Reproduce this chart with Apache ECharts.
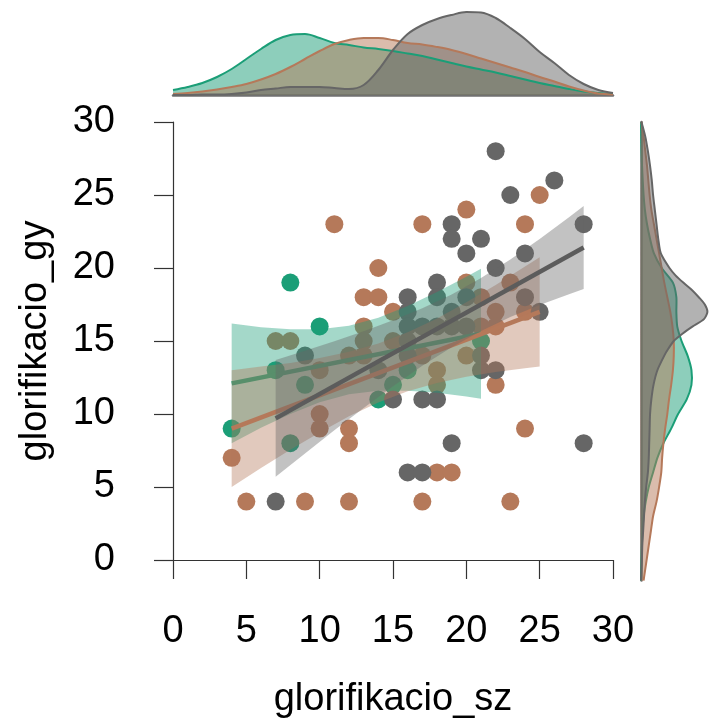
<!DOCTYPE html>
<html><head><meta charset="utf-8">
<script src="https://cdn.jsdelivr.net/npm/echarts@6/dist/echarts.min.js"></script>
<style>html,body{margin:0;padding:0;background:#fff}#c{width:710px;height:722px}</style>
</head><body><div id="c"></div>
<script>
// ---- scatter data (glorifikacio_sz, glorifikacio_gy) ----
const greenSz = [4,7,8,8,9,10,14,15,16,21];
const greenGy = [9,13,19,8,12,16,11,12,13,15];
const brownSz = [11,14,13,14,15,13,4,5,9,12,17,23,12,12,10,10,17,20,25,24,23,24,22,18,19,7,8,10,12,13,13,15,20,21,22,20,17,18,18,24,22,21];
const brownGy = [23,20,18,18,17,16,7,4,4,4,4,4,9,8,10,9,23,24,25,23,19,9,12,6,6,15,15,13,14,14,15,15,19,18,17,14,14,13,12,17,16,16];
const greySz = [22,26,23,28,19,19,21,20,24,22,18,16,24,25,19,28,16,17,7,15,17,18,21,22,14,9,16,16,17,16,16,18,20,19,18,19,20,21];
const greyGy = [28,26,25,23,23,22,22,21,21,20,19,18,18,17,8,8,6,6,4,11,11,11,13,13,13,14,17,16,16,15,14,18,18,17,16,16,16,14];

// ---- regression fits ----
const greenFitX = [4,21], greenFitY = [12.1,15.5];
const brownFitX = [4,25], brownFitY = [9.0,17.0];
const greyFitX = [7,28], greyFitY = [9.7,21.4];

// ---- confidence bands ----
const greenBandX = [4,6,8,10,12,14,16,18,20,21];
const greenBandLo = [8.0,9.06,10.0,10.8,11.35,11.6,11.6,11.45,11.2,11.05];
const greenBandHi = [16.2,15.94,15.8,15.8,16.05,16.6,17.4,18.35,19.4,19.95];
const brownBandX = [4,6,8,10,12,14,16,18,20,22,24,25];
const brownBandLo = [5.0,6.3,7.55,8.74,9.84,10.79,11.55,12.12,12.55,12.88,13.14,13.26];
const brownBandHi = [13.0,13.25,13.5,13.84,14.26,14.83,15.6,16.54,17.65,18.84,20.1,20.74];
const greyBandX = [7,9,11,13,15,17,19,21,23,25,27,28];
const greyBandLo = [5.7,7.29,8.88,10.41,11.9,13.3,14.57,15.69,16.64,17.47,18.21,18.56];
const greyBandHi = [13.7,14.33,14.98,15.67,16.42,17.24,18.19,19.31,20.58,21.99,23.47,24.24];

// ---- marginal densities (relative units) ----
const topX = [0,1,2,3,4,5,6,7,8,9,10,11,12,13,14,15,16,17,18,19,20,21,22,23,24,25,26,27,28,29,30];
const greenTop = [5,8,12,18,26,36,46,55,60,61,57,52,50,47.5,46,44,41.5,39,35.5,32,28.5,25.5,22.5,19,15.5,12,9,6,3.5,2,1];
const brownTop = [1,2,3.5,5.5,8,11,15.5,21,28,36,44,51,55,57,57,55,52,50.5,48,45,41,36.5,32,27.5,23,18,13.5,8.5,4.5,1.5,0.5];
const greyTop = [0,0,0.5,0.5,1,2.5,5,6.5,8,8,8,7,6,10,25,45,61,70,76,80,83,82.5,77,67,56,43,32,20,11,5,2];

const rightY = [30,29,28,27,26,25,24,23,22,21,20,19,18,17,16,15,14,13,12,11,10,9,8,7,6,5,4,3,2,1,0,-1,-1.4];
const greenRight = [0,0.3,0.7,1.2,2,3,4.5,7,10.5,15,24,37,41,41,42,47,54,58.5,58.5,53,43,35,26,19,14,9,5.5,3,1.8,1,0.5,0.2,0];
const brownRight = [0.5,3,5,7,8.5,10,12,15,18,21,24,27,30.5,34,36.5,38,38,37,35,32.5,30.5,28,26,24.5,23.5,21,18,14,11.5,9,6.5,4,3];
const greyRightY = [30,29,28,27,26,25,24,23,22,21,20,19.5,19,18.5,18,17.5,17,16.5,16,15.5,15,14.5,14,13,12,11,10,9,8,7,6,5,4,3,2,1,0,-1,-1.4];
const greyRight = [0.5,5,8,10.5,12.5,14,16,18,20,23,33,40,49,59,67,74,77,73,60,48,38,32,27,19,14.5,12,10.5,10,9.5,9,8,6,4.5,3.5,2.5,1.5,1,0.3,0];

const xTickLabels = ['0','5','10','15','20','25','30'];
const yTickLabels = ['0','5','10','15','20','25','30'];

const GREEN = '#1B9E77', BROWN = '#B5795A', GREY = '#666666';
const FONT = '"Liberation Sans", Arial, sans-serif';

function zip(a, b) { return a.map((v, i) => [v, b[i]]); }

function bandRender(xs, lo, hi, color) {
  return function (params, api) {
    if (params.dataIndex !== 0) return null;
    const pts = [];
    for (let i = 0; i < xs.length; i++) pts.push(api.coord([xs[i], hi[i]]));
    for (let i = xs.length - 1; i >= 0; i--) pts.push(api.coord([xs[i], lo[i]]));
    return { type: 'polygon', shape: { points: pts }, style: { fill: color } };
  };
}
function rightDensRender(ys, ws, line, fill) {
  return function (params, api) {
    if (params.dataIndex !== 0) return null;
    const curve = ys.map((y, i) => api.coord([ws[i], y]));
    const poly = [api.coord([0, ys[0]])].concat(curve, [api.coord([0, ys[ys.length - 1]])]);
    return { type: 'group', children: [
      { type: 'polygon', shape: { points: poly, smooth: 0.25 }, style: { fill: fill } },
      { type: 'polyline', shape: { points: curve, smooth: 0.25 }, style: { stroke: line, lineWidth: 2, fill: null } }
    ] };
  };
}
function scatter(xs, ys, color) {
  return { type: 'scatter', xAxisIndex: 0, yAxisIndex: 0, data: zip(xs, ys), symbolSize: 18,
    itemStyle: { color: color, opacity: 1 }, z: 2, silent: true };
}
function band(xs, lo, hi, color, z) {
  return { type: 'custom', xAxisIndex: 0, yAxisIndex: 0, data: [[xs[0], lo[0]]],
    renderItem: bandRender(xs, lo, hi, color), z: z, silent: true };
}
function fit(xs, ys, color, z) {
  return { type: 'line', xAxisIndex: 0, yAxisIndex: 0, data: zip(xs, ys), symbol: 'none',
    lineStyle: { color: color, width: 4.5 }, z: z, silent: true };
}
function topDens(ys, line, fill) {
  return { type: 'line', xAxisIndex: 1, yAxisIndex: 1, data: zip(topX, ys), symbol: 'none', smooth: 0.35,
    lineStyle: { color: line, width: 2 }, areaStyle: { color: fill, opacity: 1 }, z: 2, silent: true };
}
function rightDens(ys, ws, line, fill) {
  return { type: 'custom', xAxisIndex: 2, yAxisIndex: 2, data: [[0, 0]],
    renderItem: rightDensRender(ys, ws, line, fill), z: 2, silent: true };
}

const axisCol = '#333';
const chart = echarts.init(document.getElementById('c'), null, { renderer: 'canvas' });
chart.setOption({
  animation: false,
  backgroundColor: '#fff',
  grid: [
    { left: 173, right: 97, top: 122, bottom: 162 },
    { left: 173, width: 440, top: 0, height: 95 },
    { left: 641, width: 80, top: 122, height: 458.5 }
  ],
  xAxis: [
    { type: 'value', gridIndex: 0, min: 0, max: 30, interval: 5, offset: 23,
      axisLine: { lineStyle: { color: axisCol, width: 1.2 } },
      axisTick: { length: 19, lineStyle: { color: axisCol, width: 1.2 } },
      axisLabel: { fontSize: 38, fontFamily: FONT, color: '#000', margin: 30,
        formatter: (v) => xTickLabels[Math.round(v / 5)] },
      splitLine: { show: false } },
    { type: 'value', gridIndex: 1, min: 0, max: 30, show: true,
      axisLine: { lineStyle: { color: '#707070', width: 2.5 } }, axisTick: { show: false },
      axisLabel: { show: false }, splitLine: { show: false } },
    { type: 'value', gridIndex: 2, min: 0, max: 80, show: false }
  ],
  yAxis: [
    { type: 'value', gridIndex: 0, min: 0, max: 30, interval: 5, offset: 21,
      axisLine: { lineStyle: { color: axisCol, width: 1.2 } },
      axisTick: { length: 19, lineStyle: { color: axisCol, width: 1.2 } },
      axisLabel: { fontSize: 38, fontFamily: FONT, color: '#000', margin: 37,
        formatter: (v) => yTickLabels[Math.round(v / 5)] },
      splitLine: { show: false } },
    { type: 'value', gridIndex: 1, min: 0, max: 95, show: false },
    { type: 'value', gridIndex: 2, min: -1.4, max: 30, show: true,
      axisLine: { lineStyle: { color: '#707070', width: 2.5 } }, axisTick: { show: false },
      axisLabel: { show: false }, splitLine: { show: false } }
  ],
  graphic: [
    { type: 'text', x: 393, y: 700, style: { text: 'glorifikacio_sz', font: '38px ' + FONT, fill: '#000', align: 'center', verticalAlign: 'middle' } },
    { type: 'text', x: 36, y: 341, rotation: Math.PI / 2, style: { text: 'glorifikacio_gy', font: '38px ' + FONT, fill: '#000', align: 'center', verticalAlign: 'middle' } }
  ],
  series: [
    scatter(greenSz, greenGy, GREEN),
    scatter(brownSz, brownGy, BROWN),
    scatter(greySz, greyGy, GREY),
    band(greenBandX, greenBandLo, greenBandHi, 'rgba(27,158,119,0.4)', 3),
    fit(greenFitX, greenFitY, GREEN, 4),
    band(brownBandX, brownBandLo, brownBandHi, 'rgba(181,121,90,0.4)', 5),
    fit(brownFitX, brownFitY, BROWN, 6),
    band(greyBandX, greyBandLo, greyBandHi, 'rgba(102,102,102,0.4)', 7),
    fit(greyFitX, greyFitY, '#5c5c5c', 8),
    topDens(greenTop, GREEN, 'rgba(27,158,119,0.5)'),
    topDens(brownTop, BROWN, 'rgba(181,121,90,0.5)'),
    topDens(greyTop, GREY, 'rgba(102,102,102,0.5)'),
    rightDens(rightY, greenRight, GREEN, 'rgba(27,158,119,0.5)'),
    rightDens(rightY, brownRight, BROWN, 'rgba(181,121,90,0.5)'),
    rightDens(greyRightY, greyRight, GREY, 'rgba(102,102,102,0.5)')
  ]
});
</script>
</body></html>
